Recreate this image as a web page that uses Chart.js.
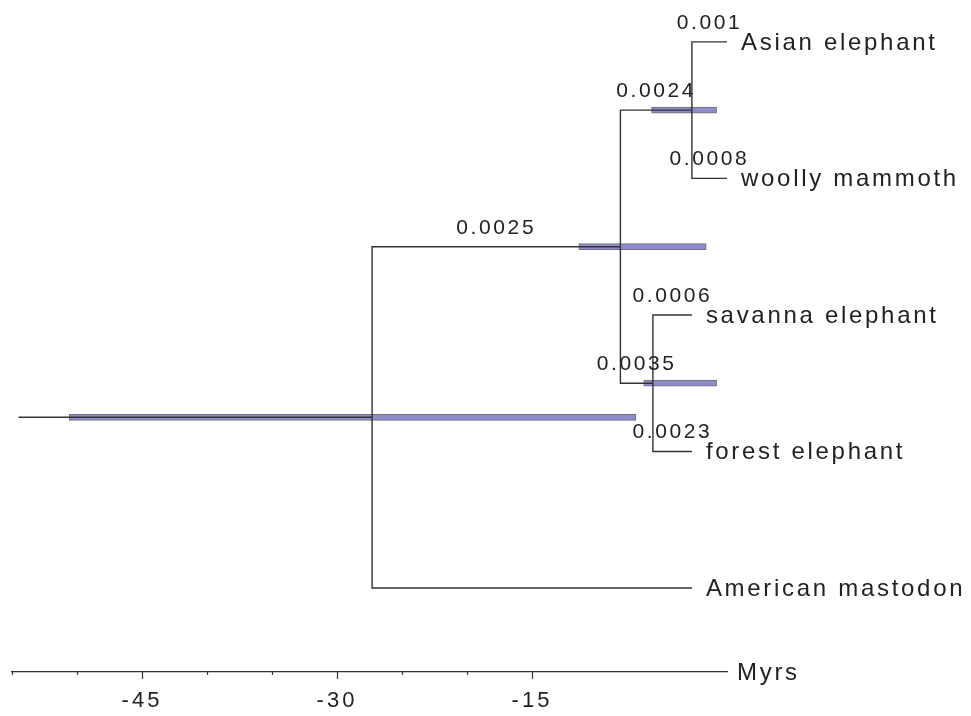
<!DOCTYPE html>
<html><head><meta charset="utf-8">
<script src="https://cdn.jsdelivr.net/npm/chart.js@4"></script>
<style>html,body{margin:0;padding:0;background:#fff}#wrap{width:971px;height:716px}</style>
</head><body><div id="wrap"><canvas id="c" width="971" height="716"></canvas></div>
<script>
// ---- data ----
const tipLabels = ['Asian elephant', 'woolly mammoth', 'savanna elephant', 'forest elephant', 'American mastodon'];
const tipRows = [0, 1, 2, 3, 4];
const tipAges = [0, 0, -2.7, -2.7, -2.7];            // Myrs
const nodeNames = ['root', 'Elephantidae', 'Elephas+Mammuthus', 'Loxodonta'];
const nodeAges = [-27.3, -8.2, -2.7, -5.7];           // Myrs
const nodeRows = [2.75, 1.5, 0.5, 2.5];
const hpdLow = [-50.6, -11.4, -5.8, -6.4];
const hpdHigh = [-7.0, -1.6, -0.8, -0.8];
const rootStemStart = -54.5;
const edgeParent = [0, 0, 1, 1, 2, 2, 3, 3];
const edgeChild = ['n1', 't4', 'n2', 'n3', 't0', 't1', 't2', 't3'];
const edgeRate = ['0.0025', '', '0.0024', '0.0035', '0.001', '0.0008', '0.0006', '0.0023'];
const xTickLabels = [-45, -30, -15];
const xMinorTicks = [-55, -50, -45, -40, -35, -30, -25, -20, -15];
const axisTitle = 'Myrs';

// ---- layout constants ----
const FONT = '"Liberation Sans", Arial, Helvetica, sans-serif';
const axisRow = 4.615;
const TEXT = '#222';

function nodeAt(ref) {
  const k = ref[0], i = +ref.slice(1);
  return k === 'n' ? {x: nodeAges[i], y: nodeRows[i]} : {x: tipAges[i], y: tipRows[i]};
}

const lineStyle = {type: 'line', borderColor: '#333', borderWidth: 1.4, pointRadius: 0, fill: false, tension: 0, order: 1};
const datasets = [];
datasets.push({
  type: 'bar', indexAxis: 'y', order: 2,
  data: nodeAges.map((_, i) => ({x: [hpdLow[i], hpdHigh[i]], y: nodeRows[i]})),
  backgroundColor: '#8d8dc9', borderColor: '#6f6f7e', borderWidth: 1, borderSkipped: false,
  barThickness: 6
});
datasets.push(Object.assign({}, lineStyle, {data: [{x: rootStemStart, y: nodeRows[0]}, {x: nodeAges[0], y: nodeRows[0]}]}));
edgeParent.forEach((p, e) => {
  const c = nodeAt(edgeChild[e]);
  datasets.push(Object.assign({}, lineStyle, {
    data: [{x: nodeAges[p], y: nodeRows[p]}, {x: nodeAges[p], y: c.y}, {x: c.x, y: c.y}]
  }));
});

const treePlugin = {
  id: 'treeLabels',
  beforeDraw(chart) { chart.ctx.letterSpacing = '3px'; },
  afterDraw(chart) {
    const {ctx} = chart, x = chart.scales.x, y = chart.scales.y;
    ctx.save();
    ctx.fillStyle = TEXT;
    // tip labels
    ctx.font = '24px ' + FONT; ctx.letterSpacing = '2.7px';
    ctx.textAlign = 'left'; ctx.textBaseline = 'middle';
    tipLabels.forEach((t, i) => ctx.fillText(t, x.getPixelForValue(tipAges[i]) + 14, y.getPixelForValue(tipRows[i]) + 1));
    // branch rate labels
    ctx.font = '21px ' + FONT; ctx.letterSpacing = '2.6px';
    ctx.textAlign = 'center'; ctx.textBaseline = 'alphabetic';
    edgeParent.forEach((p, e) => {
      if (!edgeRate[e]) return;
      const c = nodeAt(edgeChild[e]);
      const mx = (x.getPixelForValue(nodeAges[p]) + x.getPixelForValue(c.x)) / 2;
      ctx.fillText(edgeRate[e], mx, y.getPixelForValue(c.y) - 13);
    });
    // axis ticks
    const y0 = y.getPixelForValue(axisRow);
    ctx.strokeStyle = '#333'; ctx.lineWidth = 1.2;
    xMinorTicks.forEach(v => {
      const px = Math.round(x.getPixelForValue(v)) + 0.5;
      const len = xTickLabels.includes(v) ? 7 : 3;
      ctx.beginPath(); ctx.moveTo(px, y0); ctx.lineTo(px, y0 + len); ctx.stroke();
    });
    // axis title
    ctx.font = '24px ' + FONT; ctx.letterSpacing = '2.7px';
    ctx.textAlign = 'left'; ctx.textBaseline = 'middle';
    ctx.fillText(axisTitle, x.getPixelForValue(0) + 10, y0 + 1);
    ctx.restore();
  }
};

new Chart(document.getElementById('c'), {
  type: 'line',
  data: {datasets},
  options: {
    responsive: false, animation: false, devicePixelRatio: 1,
    layout: {padding: {left: 12, right: 244, top: 0, bottom: 0}},
    plugins: {legend: {display: false}, tooltip: {enabled: false}},
    events: [],
    scales: {
      x: {
        type: 'linear', min: -55, max: 0, offset: false,
        position: {y: axisRow},
        border: {display: true, color: '#333', width: 1.2},
        grid: {display: false, drawTicks: true, tickLength: 8},
        ticks: {
          stepSize: 5, autoSkip: false, maxRotation: 0, padding: 8, color: TEXT,
          font: {family: FONT, size: 22},
          callback: v => xTickLabels.includes(v) ? String(v) : ''
        }
      },
      y: {type: 'linear', min: -0.307, max: 4.938, reverse: true, offset: false, display: false}
    }
  },
  plugins: [treePlugin]
});
</script>
</body></html>
